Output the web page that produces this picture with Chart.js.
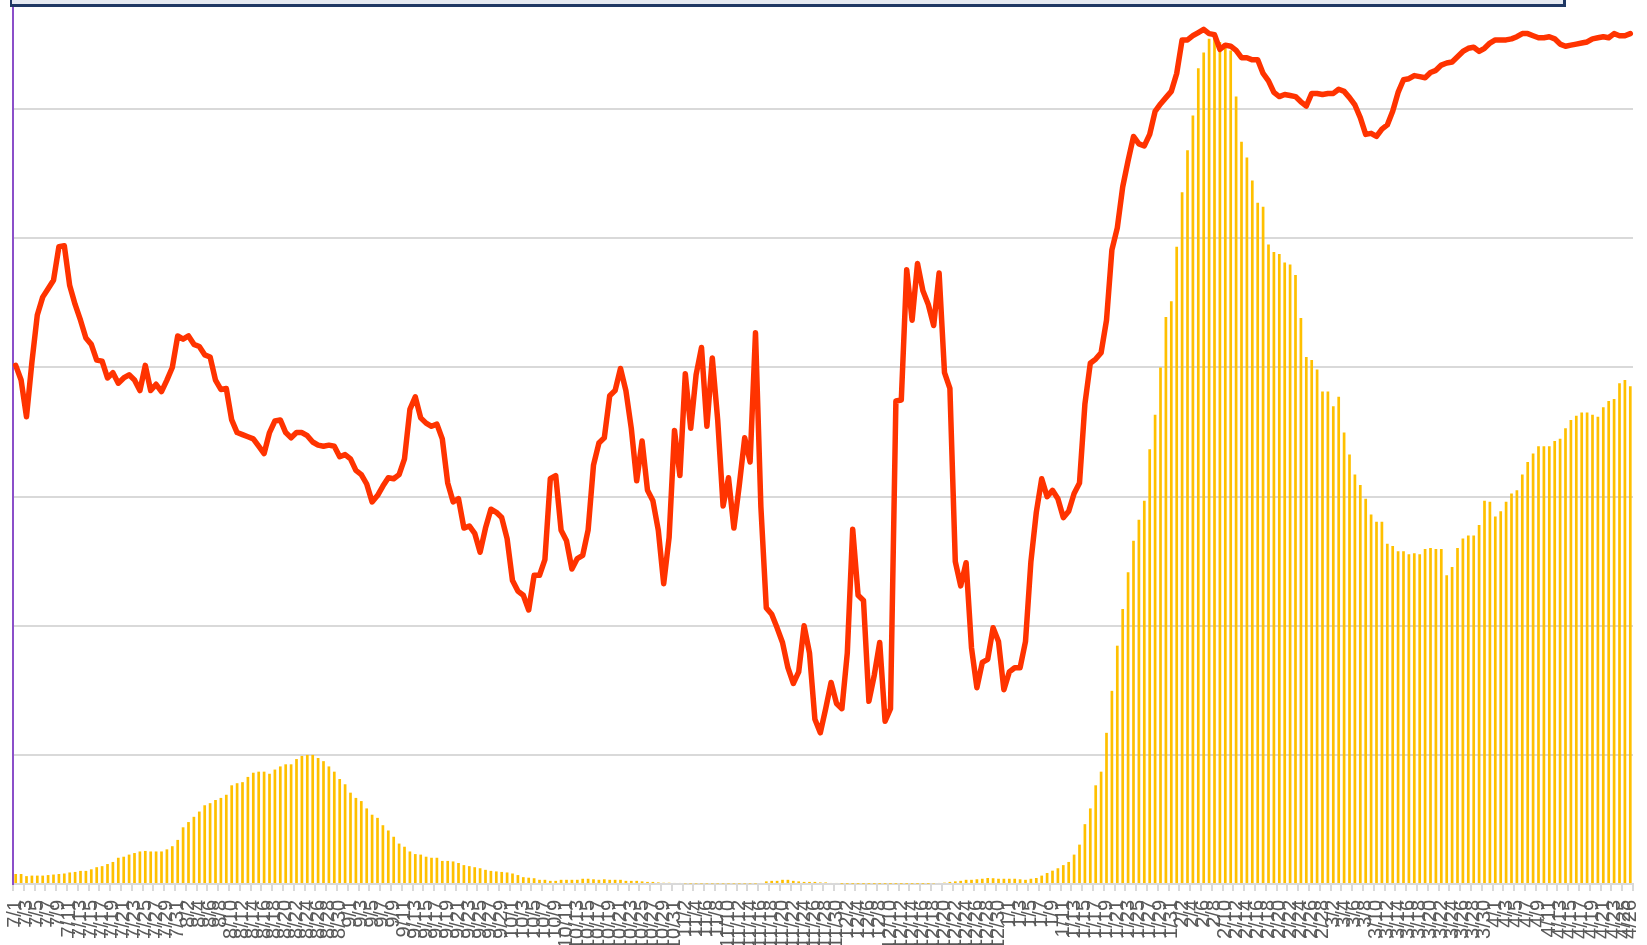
<!DOCTYPE html>
<html>
<head>
<meta charset="utf-8">
<script src="https://cdn.jsdelivr.net/npm/chart.js@4.4.1/dist/chart.umd.min.js"></script>
<style>
html, body { margin: 0; padding: 0; background: #fff; overflow: hidden; }
#wrap { position: relative; width: 1647px; height: 945px; }
#titleBox { position: absolute; left: 10px; top: -40px; width: 1551px; height: 41px;
  border: 3px solid #203864; border-left-width: 2px; background: #e6eaf2; }
</style>
</head>
<body>
<div id="wrap">
  <canvas id="chart" width="1647" height="945"></canvas>
  <div id="titleBox"></div>
</div>
<script>
// ------------------------------ DATA ------------------------------
// Days per month, 7/1 .. 4/26 (one bar per day)
var months = [[7, 31], [8, 31], [9, 30], [10, 31], [11, 30], [12, 31], [1, 31], [2, 28], [3, 31], [4, 26]];

// Daily bars (no axis labels in the picture, so values are in gridline units of 123)
var barValues = [
  9.5, 9.5, 7.5, 8, 8, 8, 8.5, 9, 9.5, 10,
  11, 11.5, 12.5, 12.5, 14, 16, 17, 19, 21, 25,
  26, 28, 29.5, 31, 31.5, 31, 31, 31, 33, 36,
  42, 54, 59, 64, 69, 75, 77, 80, 82, 85,
  94, 96, 97, 102, 106, 107, 107, 105, 109, 112,
  114, 114, 119, 122, 123, 123, 120, 117, 112, 107,
  100, 95, 87, 82, 79, 72, 66, 63, 56, 51,
  45, 38.5, 35.5, 31, 28.5, 28, 26, 25, 25, 22,
  22, 21.5, 20, 18, 17, 16, 15, 13.5, 12.5, 12,
  11.5, 11, 10, 8.5, 6.5, 6, 5.5, 4, 4, 3,
  3, 4, 4, 4, 4, 5, 5, 4.5, 4, 4.5,
  4, 4, 4, 3, 3, 3, 2.5, 2, 2, 1.5,
  1.2, 1.2, 1, 1, 0.6, 0.5, 0.5, 0.5, 0.5, 0.5,
  0.5, 0.5, 0.5, 0.5, 0.5, 0.5, 0.5, 0.5, 1, 2.5,
  3, 3, 4, 4, 3, 2.5, 2, 2, 2, 1.5,
  1.5, 1, 1, 0.3, 0.3, 0.3, 0.3, 0.3, 0.3, 0.3,
  0.3, 0.3, 0.3, 0.3, 0.3, 0.3, 0.3, 0.3, 0.3, 0.3,
  0.6, 1, 1.3, 2, 2.5, 3, 4, 4, 4.5, 5,
  5.7, 5.5, 5, 5, 5, 5, 4.5, 4, 5, 5.7,
  8, 10.5, 12.7, 15, 18, 21, 28, 37.5, 57, 72,
  94, 107, 144, 184, 227, 262, 297, 327, 347, 365,
  414, 447, 492, 540, 555, 607, 659, 699, 732, 777,
  792, 805, 807, 802, 797, 794, 750, 707, 692, 670,
  649, 645, 609, 602, 600, 592, 590, 580, 539, 502,
  499, 490, 469, 469, 455, 464, 430, 409, 390, 380,
  367, 352, 345, 345, 324, 322, 317, 317, 314, 315,
  314, 319, 320, 319, 319, 294, 302, 320, 329, 332,
  332, 342, 365, 364, 350, 355, 364, 372, 375, 390,
  402, 410, 417, 417, 417, 422, 424, 434, 442, 446,
  449, 449, 447, 445, 454, 460, 462, 477, 480, 474
];

// Daily line (own axis, same 0..842 span)
var lineValues = [
  // Jul
  494, 480, 445, 497, 542, 559, 567, 575, 607, 608, 570, 552, 537, 520, 514, 499,
  498, 482, 487, 477, 482, 485, 480, 470, 494, 470, 476, 469, 480, 492, 522,
  // Aug
  519, 522, 514, 512, 504, 502, 480, 471, 472, 442, 430, 428, 426, 424, 417, 410,
  430, 441, 442, 430, 425, 430, 430, 427, 421, 418, 417, 418, 417, 407, 409,
  // Sep
  405, 394, 390, 381, 364, 370, 379, 387, 386, 390, 405, 452, 464, 444, 439,
  436, 438, 424, 382, 364, 367, 339, 341, 334, 316, 339, 357, 354, 349, 329,
  // Oct
  289, 279, 275, 261, 294, 294, 309, 386, 389, 337, 327, 300, 310, 313, 337, 399,
  420, 425, 465, 470, 491, 470, 434, 384, 422, 375, 365, 337, 286, 330, 432,
  // Nov
  389, 486, 434, 485, 511, 436, 501, 442, 360, 387, 339, 380, 425, 402, 525,
  359, 263, 257, 244, 230, 206, 191, 202, 246, 220, 157, 144, 167, 192, 172,
  // Dec
  167, 220, 338, 275, 270, 174, 199, 230, 155, 167, 460, 461, 585, 537, 591, 565,
  552, 532, 582, 487, 472, 307, 284, 306, 225, 187, 211, 214, 244, 231, 185,
  // Jan
  202, 206, 206, 231, 307, 354, 386, 369, 375, 367, 349, 355, 372, 382, 457, 496,
  500, 506, 537, 604, 625, 664, 689, 712, 705, 703, 714, 736, 743, 749, 755,
  // Feb
  772, 804, 804, 808, 811, 814, 810, 809, 795, 799, 798, 794, 787, 787,
  785, 785, 772, 765, 754, 750, 752, 751, 750, 745, 741, 753, 753, 752,
  // Mar
  753, 753, 757, 755, 749, 742, 730, 714, 715, 712, 719, 723, 736, 754, 766, 767,
  770, 769, 768, 773, 775, 780, 782, 783, 788, 793, 796, 797, 793, 796, 801,
  // Apr
  804, 804, 804, 805, 807, 810, 810, 808, 806, 806, 807, 805, 800,
  798, 799, 800, 801, 802, 805, 806, 807, 806, 810, 808, 808, 810
];

// ------------------------------ LABELS ------------------------------
var labels = [];
months.forEach(function (m) {
  for (var d = 1; d <= m[1]; d++) labels.push(m[0] + '/' + d);
});

// Colours
var barColor = '#ffc000';
var lineColor = '#ff3300';
var gridColor = '#d9d9d9';
var axisColor = '#8b4fc9';
var labelColor = '#595959';

// ------------------------------ CHART ------------------------------
var ctx = document.getElementById('chart').getContext('2d');
var chart = new Chart(ctx, {
  data: {
    labels: labels,
    datasets: [{
      type: 'line',
      data: lineValues,
      yAxisID: 'y1',
      borderColor: lineColor,
      borderWidth: 5.5,
      borderJoinStyle: 'round',
      borderCapStyle: 'round',
      pointRadius: 0,
      tension: 0,
      order: 0
    }, {
      type: 'bar',
      data: barValues,
      yAxisID: 'y',
      backgroundColor: barColor,
      categoryPercentage: 1,
      barPercentage: 0.5,
      order: 1
    }]
  },
  options: {
    responsive: false,
    animation: false,
    devicePixelRatio: 1,
    layout: { padding: { left: 13, right: 14, top: 0, bottom: 0 } },
    plugins: { legend: { display: false }, tooltip: { enabled: false } },
    scales: {
      x: {
        offset: true,
        afterFit: function (scale) {
          // keep the plot edges where the original has them
          scale.height = 61;
          scale.paddingLeft = 0;
          scale.paddingRight = 0;
        },
        grid: {
          offset: true,
          drawOnChartArea: false,
          tickLength: 7,
          lineWidth: 2,
          color: function (c) {
            return (c.index === undefined || c.index % 2 === 0) ? gridColor : 'rgba(0,0,0,0)';
          }
        },
        border: { color: gridColor, width: 2 },
        ticks: {
          autoSkip: false,
          minRotation: 90,
          maxRotation: 90,
          padding: 9,
          color: labelColor,
          font: { family: 'Liberation Sans', size: 20 },
          callback: function (v, i) {
            return (i % 2 === 0 || i === labels.length - 1) ? labels[i] : '';
          }
        }
      },
      y: {
        min: 0,
        max: 842,
        ticks: { display: false, stepSize: 123 },
        grid: {
          drawTicks: false,
          lineWidth: 2,
          color: function (c) {
            return (c.tick && c.tick.value % 123 === 0) ? gridColor : 'rgba(0,0,0,0)';
          }
        },
        border: { color: axisColor, width: 2 }
      },
      y1: { display: false, min: 0, max: 842 }
    }
  }
});
</script>
</body>
</html>
